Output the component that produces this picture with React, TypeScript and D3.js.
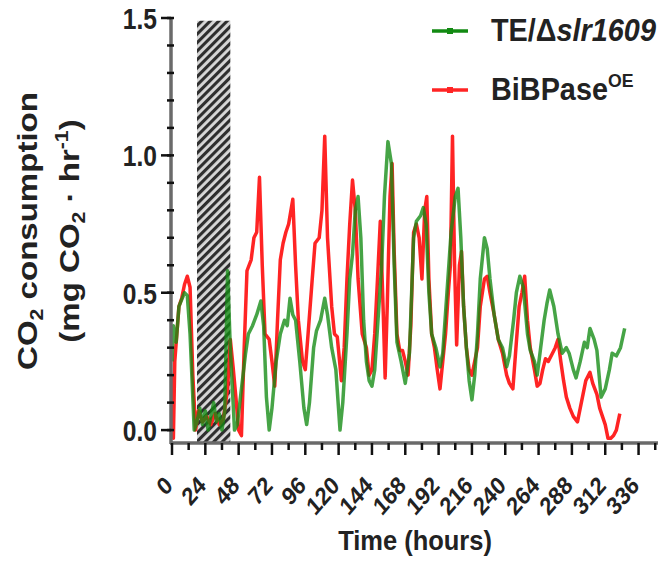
import React from 'react';
import * as d3 from 'd3';

// hours / CO2 consumption (mg CO2 per hr)
const teHours = [0, 1, 3, 5, 9, 11, 13, 16, 18, 20, 22, 24, 26, 28, 30, 32, 34, 36, 38, 40, 42, 45, 47, 50, 53, 55, 58, 61, 64, 66, 68, 70, 72, 75, 78, 81, 83, 85, 87, 89, 92, 95, 97, 99, 102, 104, 107, 110, 112, 115, 118, 121, 123, 126, 128, 130, 132, 134, 136, 138, 140, 142, 144, 146, 149, 151, 153, 155.5, 158, 160, 162, 165, 168, 171, 174, 176, 179, 181, 183, 185, 187, 190, 193, 195, 198, 201, 204, 206, 208, 210, 212, 214, 216, 218, 220, 222, 225, 227, 229, 232, 235, 238, 241, 243, 246, 248, 250.5, 253, 256, 258, 261, 263, 265, 268, 270, 272, 275, 278, 281, 284, 286, 289, 291, 294, 297, 299, 301, 304, 306, 309, 312, 315, 317, 320, 323, 326];
const teValues = [0.25, 0.38, 0.32, 0.45, 0.5, 0.49, 0.35, 0.0, 0.03, 0.08, 0.02, 0.07, 0.0, 0.05, 0.1, 0.03, 0.06, 0.0, 0.07, 0.58, 0.3, 0.0, 0.02, 0.15, 0.28, 0.35, 0.38, 0.42, 0.47, 0.38, 0.12, 0.0, 0.08, 0.25, 0.35, 0.4, 0.38, 0.48, 0.42, 0.4, 0.25, 0.08, 0.02, 0.1, 0.3, 0.36, 0.4, 0.48, 0.42, 0.3, 0.22, 0.0, 0.1, 0.35, 0.55, 0.64, 0.8, 0.85, 0.7, 0.4, 0.25, 0.18, 0.16, 0.22, 0.45, 0.6, 0.85, 1.05, 0.97, 0.6, 0.32, 0.25, 0.17, 0.28, 0.7, 0.76, 0.78, 0.81, 0.75, 0.5, 0.35, 0.3, 0.23, 0.28, 0.5, 0.72, 0.85, 0.88, 0.7, 0.45, 0.3, 0.18, 0.11, 0.2, 0.35, 0.55, 0.7, 0.66, 0.55, 0.42, 0.33, 0.3, 0.23, 0.27, 0.4, 0.5, 0.56, 0.52, 0.35, 0.29, 0.25, 0.2, 0.28, 0.4, 0.46, 0.51, 0.45, 0.35, 0.28, 0.3, 0.28, 0.22, 0.19, 0.25, 0.32, 0.3, 0.37, 0.33, 0.29, 0.12, 0.15, 0.22, 0.28, 0.27, 0.3, 0.37];

const oeHours = [0, 1, 2, 5, 7, 9, 11, 13, 15, 17, 19, 22, 25, 28, 31, 34, 37, 40, 42, 44, 46, 48, 50, 52, 54, 57, 59, 61, 63, 65, 67, 70, 72, 74, 76, 78, 80, 82, 84, 87, 89, 91, 94, 96, 98, 101, 103, 106, 108, 110, 112, 115, 117, 119, 122, 124, 126, 128, 130, 132, 134, 137, 140, 142, 144, 146, 148, 150, 152, 153.5, 155, 157, 158.5, 160, 162, 164, 166, 168, 170, 172, 174, 176, 178, 180, 182, 183.5, 185, 187, 189, 191, 193, 195, 197, 199, 200.5, 202, 203.5, 205, 207, 208.5, 210, 212, 214, 216, 218, 220, 222, 225, 227, 229, 232, 235, 238, 241, 243, 245.5, 248, 250, 252, 254, 256, 258, 261, 263, 265, 267, 269, 271, 274, 276, 278, 280, 282, 284, 286.5, 289, 292, 294, 296, 298, 301, 303, 306, 308, 310, 312, 314, 316, 318, 320, 322.5];
const oeValues = [0.2, -0.03, 0.25, 0.45, 0.48, 0.53, 0.56, 0.52, 0.2, 0.0, 0.07, 0.03, 0.05, 0.02, 0.06, 0.02, 0.04, 0.15, 0.33, 0.23, 0.12, 0.0, -0.02, 0.3, 0.58, 0.62, 0.7, 0.72, 0.92, 0.6, 0.35, 0.33, 0.25, 0.16, 0.4, 0.62, 0.68, 0.72, 0.75, 0.84, 0.6, 0.4, 0.25, 0.22, 0.35, 0.55, 0.68, 0.7, 0.8, 1.07, 0.7, 0.45, 0.35, 0.34, 0.18, 0.3, 0.55, 0.75, 0.91, 0.8, 0.55, 0.35, 0.3, 0.2, 0.22, 0.35, 0.55, 0.76, 0.45, 0.19, 0.45, 0.85, 0.97, 0.65, 0.35, 0.29, 0.29, 0.25, 0.2, 0.38, 0.72, 0.75, 0.7, 0.55, 0.8, 0.85, 0.55, 0.35, 0.3, 0.22, 0.15, 0.25, 0.35, 0.5, 0.6, 1.07, 0.6, 0.31, 0.6, 0.65, 0.45, 0.3, 0.22, 0.2, 0.25, 0.3, 0.45, 0.55, 0.56, 0.5, 0.42, 0.33, 0.28, 0.2, 0.17, 0.15, 0.32, 0.45, 0.5, 0.56, 0.4, 0.3, 0.22, 0.16, 0.17, 0.22, 0.26, 0.25, 0.28, 0.3, 0.33, 0.25, 0.18, 0.12, 0.08, 0.05, 0.03, 0.08, 0.13, 0.18, 0.21, 0.17, 0.13, 0.08, 0.05, 0.02, -0.03, -0.03, -0.02, 0.0, 0.06];

const darkPeriod = [18, 42];
const xTicks = d3.range(0, 337, 24);
const xMinor = d3.range(12, 349, 24);
const yTicks = [0, 0.5, 1.0, 1.5];
const yMinor = d3.range(0, 1.51, 0.1);

const W = 664;
const H = 562;
const font = 'Liberation Sans, Arial, Helvetica, sans-serif';

export default function App() {
  const x = d3.scaleLinear().domain([0, 350]).range([172, 658]);
  const y = d3.scaleLinear().domain([-0.047, 1.5]).range([443, 18]);

  const line = d3
    .line<[number, number]>()
    .x((d) => x(d[0]))
    .y((d) => y(d[1]));

  const te = teHours.map((h, i) => [h, teValues[i]] as [number, number]);
  const oe = oeHours.map((h, i) => [h, oeValues[i]] as [number, number]);

  const green = '#128a12';
  const red = '#ff2424';

  return (
    <svg width={W} height={H} style={{ position: 'absolute', left: 0, top: 0, background: '#fff' }}>
      <defs>
        <pattern id="hatch" patternUnits="userSpaceOnUse" width="6" height="6" patternTransform="rotate(45)">
          <rect width="6" height="6" fill="#d8d8d8" />
          <line x1="1.5" y1="0" x2="1.5" y2="6" stroke="#2e2e2e" strokeWidth="3.2" />
        </pattern>
      </defs>

      {/* dark period */}
      <rect
        x={x(darkPeriod[0])}
        y={y(1.49)}
        width={x(darkPeriod[1]) - x(darkPeriod[0])}
        height={442 - y(1.49)}
        fill="url(#hatch)"
      />

      {/* series */}
      <path d={line(oe) || ''} fill="none" stroke={red} strokeWidth={3.5} strokeLinejoin="round" />
      <path d={line(te) || ''} fill="none" stroke={green} strokeOpacity={0.78} strokeWidth={3.5} strokeLinejoin="round" />

      {/* y axis */}
      <line x1={171} x2={171} y1={y(1.5) - 1} y2={444} stroke="#6a6a6a" strokeWidth={3.5} />
      {yMinor.map((t) => (
        <line key={'ym' + t} x1={167} x2={174} y1={y(t)} y2={y(t)} stroke="#111" strokeWidth={2.5} />
      ))}
      {yTicks.map((t) => (
        <g key={'y' + t}>
          <line x1={161} x2={171} y1={y(t)} y2={y(t)} stroke="#111" strokeWidth={2.5} />
          <text
            transform={`translate(157,${y(t)}) scale(0.82,1)`}
            dy="0.36em"
            textAnchor="end"
            fontFamily={font}
            fontWeight="bold"
            fontSize={30}
            fill="#222"
          >
            {t.toFixed(1)}
          </text>
        </g>
      ))}

      {/* x axis */}
      <line x1={170} x2={x(350)} y1={443} y2={443} stroke="#6a6a6a" strokeWidth={3.5} />
      {xMinor.map((t) => (
        <line key={'xm' + t} x1={x(t)} x2={x(t)} y1={443} y2={450} stroke="#111" strokeWidth={2.5} />
      ))}
      {xTicks.map((t) => (
        <g key={'x' + t}>
          <line x1={x(t)} x2={x(t)} y1={443} y2={455} stroke="#111" strokeWidth={2.5} />
          <text
            transform={`translate(${x(t) + 2},487) scale(0.86,1) rotate(-45)`}
            textAnchor="end"
            fontFamily={font}
            fontWeight="bold"
            fontSize={25}
            fill="#222"
          >
            {t}
          </text>
        </g>
      ))}
      <text
        transform={`translate(415,550) scale(0.91,1)`}
        textAnchor="middle"
        fontFamily={font}
        fontWeight="bold"
        fontSize={28}
        fill="#222"
      >
        Time (hours)
      </text>

      {/* y title */}
      <text
        transform={`translate(37,231) scale(1,1.18) rotate(-90)`}
        textAnchor="middle"
        fontFamily={font}
        fontWeight="bold"
        fontSize={28}
        fill="#222"
      >
        CO<tspan fontSize={18} dy={6}>2</tspan>
        <tspan dy={-6}> consumption</tspan>
      </text>
      <text
        transform={`translate(79,231) scale(1,1.18) rotate(-90)`}
        textAnchor="middle"
        fontFamily={font}
        fontWeight="bold"
        fontSize={28}
        fill="#222"
      >
        (mg CO<tspan fontSize={18} dy={6}>2</tspan>
        <tspan dy={-6}> · hr</tspan>
        <tspan fontSize={18} dy={-11}>-1</tspan>
        <tspan dy={11}>)</tspan>
      </text>

      {/* legend */}
      <line x1={432} x2={468} y1={31} y2={31} stroke={green} strokeWidth={3.5} />
      <rect x={447} y={28} width={6} height={6} fill={green} />
      <text transform="translate(491,41) scale(0.93,1)" fontFamily={font} fontWeight="bold" fontSize={31} fill="#222">
        TE/Δ<tspan fontStyle="italic">slr1609</tspan>
      </text>
      <line x1={432} x2={468} y1={90} y2={90} stroke={red} strokeWidth={3.5} />
      <rect x={447} y={87} width={6} height={6} fill={red} />
      <text transform="translate(491,100) scale(0.93,1)" fontFamily={font} fontWeight="bold" fontSize={31} fill="#222">
        BiBPase<tspan fontSize={19} dy={-13}>OE</tspan>
      </text>
    </svg>
  );
}
